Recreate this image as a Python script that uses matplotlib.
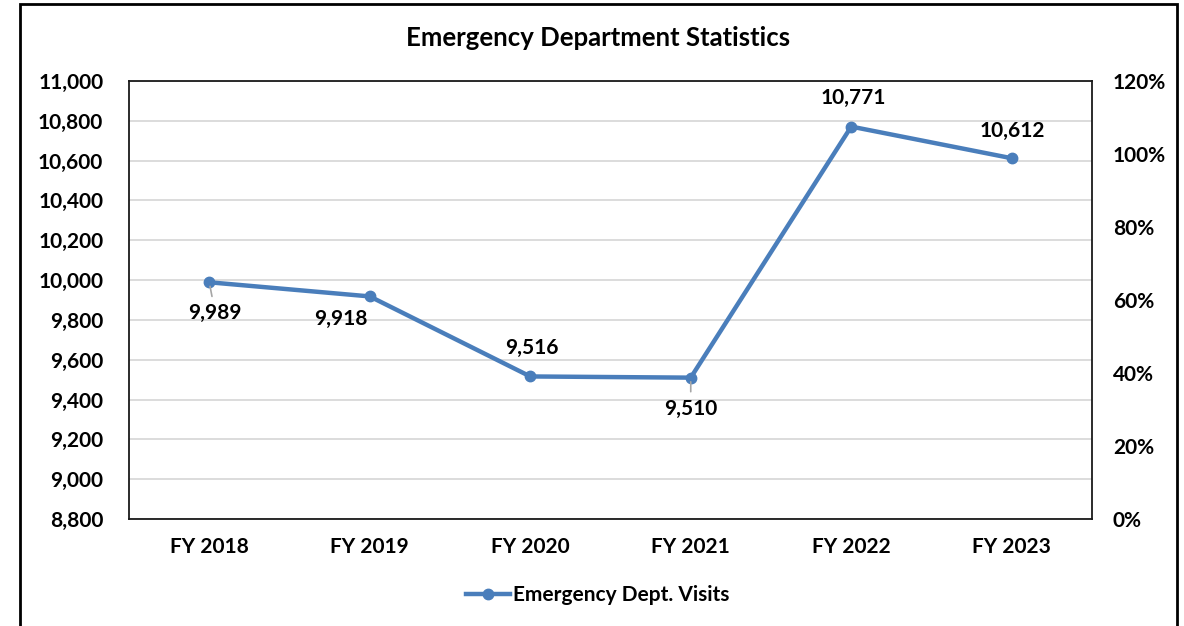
import matplotlib
matplotlib.use("Agg")
import matplotlib.pyplot as plt
from matplotlib.patches import Rectangle
from matplotlib.ticker import FuncFormatter, MultipleLocator

categories = ["FY 2018", "FY 2019", "FY 2020", "FY 2021", "FY 2022", "FY 2023"]
visits = [9989, 9918, 9516, 9510, 10771, 10612]
label_offsets = [(6, -31), (-29, -23), (2, 28), (0, -31), (2, 29), (1, 27)]  # pixels
leader = [True, False, False, True, False, False]
right_ticks = [0, 20, 40, 60, 80, 100, 120]

FONT = "Lato"
FS = 15
W, H = 1184, 626
fig = plt.figure(figsize=(W / 100, H / 100), dpi=100)
fig.patch.set_facecolor("white")

# outer chart frame
fig.add_artist(Rectangle((20 / W, -0.05), (1177 - 20) / W, (H - 4) / H + 0.05,
                         transform=fig.transFigure, fill=False, edgecolor="black", lw=2))

ax = fig.add_axes([129 / W, 1 - 519 / H, (1092 - 129) / W, (519 - 81) / H])
color = "#4A7EBB"
x = list(range(len(categories)))
ax.plot(x, visits, color=color, lw=3.2, marker="o", ms=7.5, zorder=3,
        label="Emergency Dept. Visits", solid_joinstyle="round")
ax.set_xlim(-0.5, len(categories) - 0.5)
ax.set_ylim(8800, 11000)
ax.yaxis.set_major_locator(MultipleLocator(200))
ax.yaxis.set_major_formatter(FuncFormatter(lambda v, p: f"{int(v):,}"))
ax.set_xticks(x)
ax.set_xticklabels(categories)
ax.grid(axis="y", color="#D9D9D9", lw=1.3)
ax.set_axisbelow(True)
for s in ax.spines.values():
    s.set_color("#1a1a1a")
    s.set_linewidth(1.3)
ax.tick_params(axis="y", length=0, labelsize=FS, pad=18.5)
ax.tick_params(axis="x", length=0, labelsize=FS, pad=13)
for lab in ax.get_xticklabels() + ax.get_yticklabels():
    lab.set_fontfamily(FONT)
    lab.set_fontweight("bold")

ax2 = ax.twinx()
ax2.set_ylim(0, 120)
ax2.set_yticks(right_ticks)
ax2.set_yticklabels([f"{t}%" for t in right_ticks])
ax2.tick_params(length=0, labelsize=FS, pad=15)
for lab in ax2.get_yticklabels():
    lab.set_fontfamily(FONT)
    lab.set_fontweight("bold")
for s in ax2.spines.values():
    s.set_visible(False)

for i, v in enumerate(visits):
    dx, dy = label_offsets[i]
    kw = dict(xytext=(dx, dy), textcoords="offset pixels", ha="center", va="center",
              fontsize=FS, fontweight="bold", family=FONT)
    if leader[i]:
        kw["arrowprops"] = dict(arrowstyle="-", color="#A6A6A6", lw=1.2, shrinkA=3, shrinkB=3)
    ax.annotate(f"{v:,}", (i, v), **kw)

fig.text(598 / W, 1 - 38 / H, "Emergency Department Statistics", ha="center", va="center",
         fontsize=18.5, fontweight="bold", family=FONT)

leg = ax.legend(loc="center", bbox_to_anchor=(598 / W, 1 - 595 / H), bbox_transform=fig.transFigure,
                frameon=False, handlelength=2.1, handletextpad=0.15,
                prop={"family": FONT, "weight": "bold", "size": FS})

fig.savefig("out.png", dpi=100)
